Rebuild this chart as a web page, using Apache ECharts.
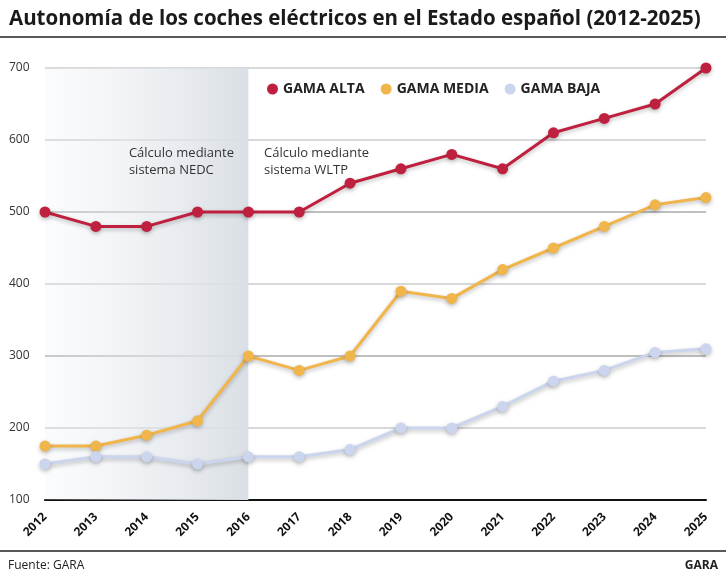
<!DOCTYPE html><html><head><meta charset="utf-8"><script src="https://cdn.jsdelivr.net/npm/echarts@6/dist/echarts.min.js"></script>
<style>body{margin:0}#c{width:726px;height:579px}</style></head><body><div id="c"></div><script>
const years=['2012','2013','2014','2015','2016','2017','2018','2019','2020','2021','2022','2023','2024','2025'];
const alta=[500,480,480,500,500,500,540,560,580,560,610,630,650,700];
const media=[175,175,190,210,300,280,300,390,380,420,450,480,510,520];
const baja=[150,160,160,150,160,160,170,200,200,230,265,280,305,310];
const F='"Open Sans", sans-serif';
function s(name,data,color,extra){return Object.assign({name,type:'line',data,symbol:'circle',symbolSize:11,
 itemStyle:{color,shadowColor:'rgba(0,0,0,0.25)',shadowBlur:4,shadowOffsetY:2},
 lineStyle:{color,width:3,shadowColor:'rgba(0,0,0,0.25)',shadowBlur:4,shadowOffsetY:2},z:5},extra||{});}
const ch=echarts.init(document.getElementById('c'));
ch.setOption({animation:false,backgroundColor:'#fff',
title:{text:'Autonomía de los coches eléctricos en el Estado español (2012-2025)',left:4,top:4,textStyle:{fontFamily:F,fontSize:20.5,fontWeight:'bold',color:'#1a1a1a'}},
graphic:[{type:'line',z:100,shape:{x1:0,y1:37,x2:726,y2:37},style:{stroke:'#222',lineWidth:1.5}},
{type:'line',z:100,shape:{x1:0,y1:551,x2:726,y2:551},style:{stroke:'#222',lineWidth:1.5}},
{type:'text',z:100,left:8,top:560,style:{text:'Fuente: GARA',font:'12px '+F,fill:'#222'}},
{type:'text',z:100,right:8,top:560,style:{text:'GARA',font:'bold 12px '+F,fill:'#222'}},
{type:'text',z:100,right:492,top:145,style:{text:'Cálculo mediante\nsistema NEDC',font:'13px '+F,fill:'#333',align:'right',lineHeight:17}},
{type:'text',z:100,left:264,top:145,style:{text:'Cálculo mediante\nsistema WLTP',font:'13px '+F,fill:'#333',lineHeight:17}}],
legend:{left:262,top:77,icon:'circle',itemWidth:11,itemHeight:11,itemGap:16,textStyle:{fontFamily:F,fontSize:14,fontWeight:'bold',color:'#222'}},
grid:{left:45,right:20,top:68,bottom:79},
xAxis:{type:'category',data:years,boundaryGap:false,axisLine:{lineStyle:{color:'#111',width:2}},axisTick:{show:false},
 axisLabel:{rotate:45,fontFamily:F,fontWeight:'bold',fontSize:12,color:'#111',margin:15}},
yAxis:{type:'value',min:100,max:700,interval:100,axisLine:{show:false},axisTick:{show:false},
 axisLabel:{fontFamily:F,fontSize:12,color:'#333',margin:36,align:'left',verticalAlign:'middle',padding:[0,0,4,0]},
 splitLine:{lineStyle:{color:['#222','#ccc','#aaa','#ccc','#aaa','#ccc','#ccc'],width:1.5}}},
series:[s('GAMA ALTA',alta,'#c0203f',{markArea:{silent:true,itemStyle:{color:{type:'linear',x:0,y:0,x2:1,y2:0,colorStops:[{offset:0,color:'rgba(235,238,242,0.2)'},{offset:1,color:'rgba(218,223,229,1)'}]}},data:[[{xAxis:'2012',yAxis:700},{xAxis:'2016',yAxis:100}]]}}),
 s('GAMA MEDIA',media,'#f0b54b'),s('GAMA BAJA',baja,'#ccd5ee')]});
</script></body></html>
